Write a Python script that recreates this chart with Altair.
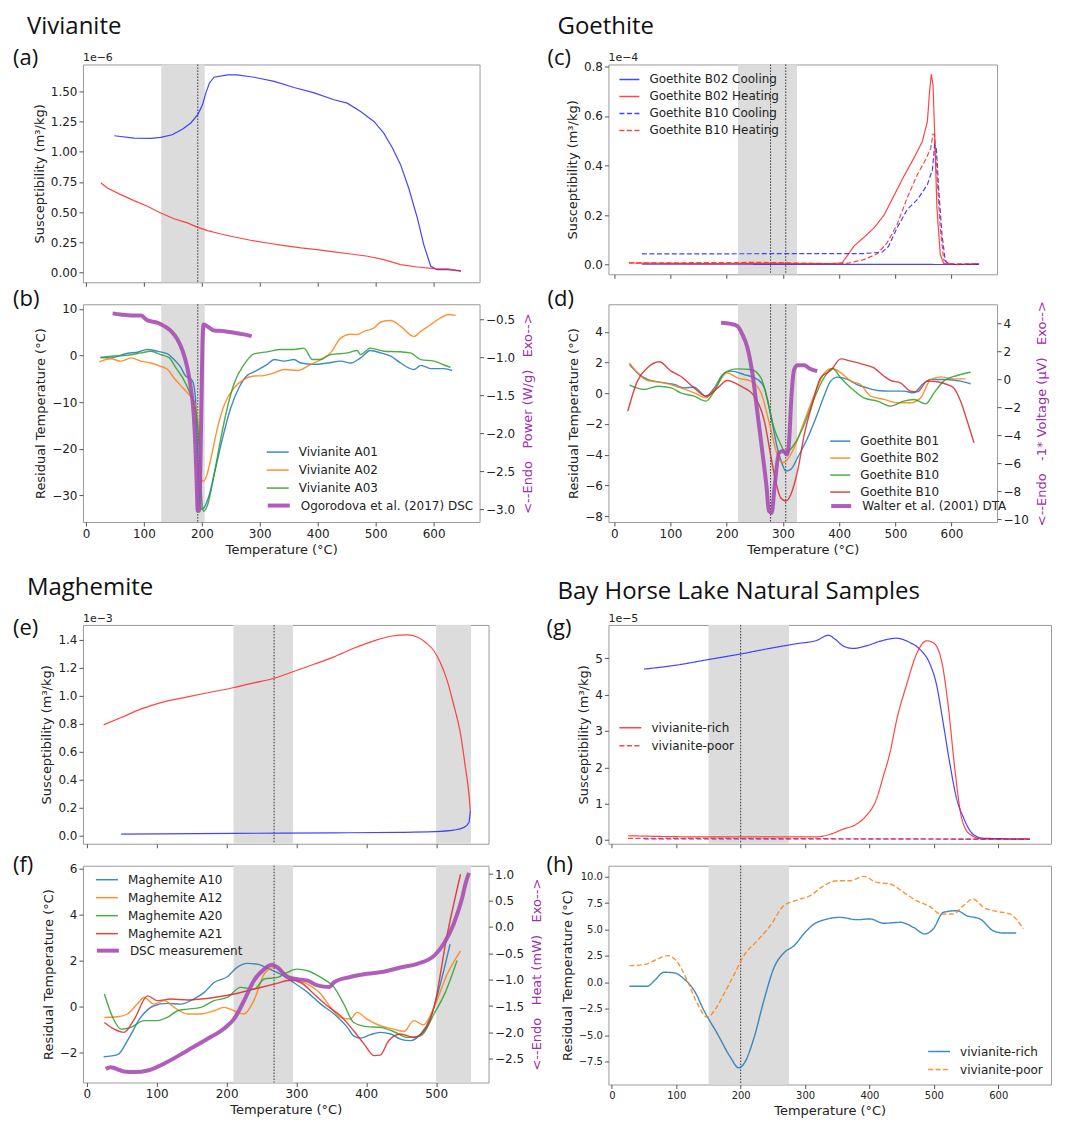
import altair as alt
import pandas as pd

FONT = "DejaVu Sans"
HFONT = "Open Sans"
INK = "#222222"
SPAN_C = "#dcdcdc"
SUS_BLUE = "#2525ff"
SUS_RED = "#ff2525"
C_BLUE, C_OR, C_GR, C_RED = "#1f77b4", "#ff7f0e", "#2ca02c", "#d62728"
DSC_C = "#a64db3"
DSC_T = "#9b30a9"
DASH = [5, 2.5]
SOLID = [1, 0]
NB = "\u00a0\u00a0\u00a0"

X6 = [0, 100, 200, 300, 400, 500, 600]
X5 = [0, 100, 200, 300, 400, 500]

# ---------------- (a) Vivianite susceptibility (x1e-6) ----------------
a_blue = [(49,1.134),(83,1.115),(112,1.112),(129,1.12),(149,1.142),(167,1.19),(181,1.24),(193,1.31),(201,1.39),(207,1.49),(213,1.57),(221,1.62),(244,1.64),(261,1.64),(290,1.62),(325,1.585),(359,1.535),(394,1.49),(428,1.433),(451,1.405),(474,1.336),(497,1.253),(514,1.156),(529,1.032),(543,0.894),(557,0.70),(572,0.45),(583,0.23),(595,0.05),(606,0.022),(624,0.022),(647,0.014)]
a_red = [(26,0.741),(37,0.70),(60,0.645),(83,0.595),(106,0.548),(129,0.492),(152,0.445),(175,0.41),(193,0.373),(210,0.346),(233,0.318),(256,0.293),(284,0.266),(313,0.243),(342,0.221),(371,0.202),(399,0.188),(428,0.169),(457,0.152),(486,0.133),(514,0.105),(543,0.064),(572,0.044),(601,0.030),(624,0.028),(647,0.008)]

# ---------------- (b) Vivianite residual temperature ----------------
b_a01 = [(25,-0.36),(43,-0.5),(72,0.5),(89,0.7),(106,1.3),(124,0.9),(141,0.36),(152,-0.86),(164,-2.6),(172,-4.4),(178,-4.8),(184,-5.5),(189,-9.1),(191,-16.2),(194,-24),(197,-31.9),(200,-33),(204,-32.6),(213,-29.8),(224,-24),(236,-17.6),(250,-11.2),(264,-6.9),(279,-4.2),(290,-3.5),(313,-1.9),(325,-0.86),(342,-1.2),(359,-0.86),(371,-1.6),(394,-1.9),(417,-1.6),(440,-1.2),(457,-1.6),(474,-0.5),(491,1.07),(509,0.57),(526,-0.14),(543,-1.6),(566,-3.0),(578,-2.1),(595,-2.8),(618,-2.8),(632,-3.2)]
b_a02 = [(23,-1.36),(43,-0.7),(60,-1.2),(78,-0.5),(95,-1.2),(112,-1.6),(129,-2.3),(141,-3),(152,-4.8),(167,-6.9),(178,-8.4),(187,-9.8),(193,-14),(197,-21.2),(200,-26.9),(203,-26.9),(207,-26.2),(216,-21.9),(227,-15.5),(239,-10.5),(256,-6.9),(273,-5.1),(290,-4.4),(307,-4.3),(325,-3.7),(342,-3.0),(365,-3.2),(388,-1.9),(405,-0.9),(422,0.57),(440,3.8),(457,4.6),(468,4.5),(480,5.2),(497,5.9),(509,7.2),(526,7.5),(543,6.3),(566,4.1),(578,5.2),(595,6.6),(612,8.1),(626,8.8),(638,8.6)]
b_a03 = [(25,-0.5),(43,-0.14),(72,0.07),(95,0.57),(112,0.93),(129,0.21),(144,-0.5),(155,-2.6),(167,-4.8),(178,-7.6),(187,-10.5),(193,-15.5),(197,-24),(200,-31.2),(203,-33.4),(210,-32),(221,-25.6),(233,-17.6),(244,-11.2),(256,-5.9),(273,-1.9),(290,0.36),(313,0.8),(336,1.3),(359,1.3),(376,1.6),(391,-0.86),(405,-0.86),(422,0.21),(451,0.57),(468,1.07),(474,0.2),(491,1.6),(514,0.93),(543,0.8),(560,0.57),(578,-0.86),(601,-1.2),(624,-2.3),(629,-2.5)]
b_dsc = [(46,-0.42),(60,-0.434),(78,-0.447),(95,-0.447),(106,-0.513),(124,-0.544),(135,-0.588),(147,-0.654),(158,-0.763),(167,-0.917),(175,-1.136),(181,-1.4),(186,-1.75),(189,-2.19),(191,-2.63),(193,-3.02),(195,-3.02),(197,-2.63),(199,-1.75),(201,-0.873),(203,-0.566),(213,-0.61),(221,-0.645),(239,-0.654),(256,-0.675),(273,-0.697),(286,-0.72)]
b_names = ["Vivianite A01", "Vivianite A02", "Vivianite A03"]
b_dsc_name = "Ogorodova et al. (2017) DSC"

# ---------------- (c) Goethite susceptibility (x1e-4) ----------------
c_b02_cool = [(49,0.002),(200,0.0015),(400,0.001),(600,0.0005),(649,0.0005)]
c_b02_heat = [(26,0.0067),(147,0.004),(266,0.005),(385,0.004),(405,0.0067),(414,0.034),(426,0.074),(444,0.11),(462,0.148),(480,0.20),(497,0.276),(515,0.356),(533,0.43),(548,0.497),(557,0.578),(561,0.70),(564,0.769),(567,0.726),(570,0.524),(574,0.229),(580,0.04),(586,0.005),(610,0.0),(649,0.004)]
c_b10_cool = [(49,0.043),(266,0.044),(444,0.044),(477,0.051),(488,0.074),(503,0.148),(521,0.222),(539,0.262),(557,0.323),(566,0.383),(570,0.484),(573,0.47),(577,0.31),(583,0.121),(589,0.013),(598,0.001),(649,0.001)]
c_b10_heat = [(26,0.0067),(266,0.009),(385,0.004),(414,0.005),(444,0.02),(468,0.044),(485,0.087),(503,0.161),(521,0.269),(539,0.363),(554,0.424),(563,0.47),(567,0.527),(570,0.524),(574,0.363),(580,0.148),(586,0.02),(598,0.003),(649,0.003)]
c_names = ["Goethite B02 Cooling", "Goethite B02 Heating", "Goethite B10 Cooling", "Goethite B10 Heating"]

# ---------------- (d) Goethite residual temperature ----------------
d_b01 = [(27,1.87),(41,1.33),(59,0.9),(89,0.68),(107,0.57),(124,0.35),(142,0.4),(163,-0.19),(178,0.35),(193,1.22),(207,1.44),(231,1.22),(255,0.9),(267,0.35),(278,-1.38),(290,-3.55),(299,-4.64),(305,-5.07),(314,-4.96),(326,-4.2),(344,-2.9),(361,-1.38),(373,-0.19),(385,0.79),(397,1.05),(415,0.9),(432,0.57),(450,0.35),(468,0.18),(492,0.14),(515,0.14),(533,0.03),(548,0.57),(563,0.9),(592,0.9),(616,0.79),(634,0.62)]
d_b02 = [(27,1.98),(41,1.33),(59,0.83),(89,0.68),(118,0.35),(142,0.03),(163,-0.3),(178,0.25),(201,1.33),(219,1.0),(243,0.79),(261,0.03),(275,-1.82),(290,-3.99),(299,-4.53),(308,-4.31),(320,-3.55),(338,-1.82),(356,-0.08),(373,1.27),(388,1.61),(403,1.33),(421,0.79),(438,0.57),(456,-0.19),(480,-0.4),(504,-0.62),(527,-0.62),(545,-0.3),(563,0.9),(581,1.07),(604,0.94),(625,0.94)]
d_b10g = [(27,0.53),(53,0.25),(77,0.46),(101,0.35),(118,0.03),(142,-0.19),(163,-0.51),(178,0.14),(196,1.33),(219,1.59),(243,1.55),(261,1.0),(273,-0.51),(284,-2.25),(296,-3.33),(305,-3.88),(320,-3.33),(338,-2.03),(356,-0.3),(373,1.0),(388,1.61),(403,1.0),(421,0.35),(444,-0.3),(468,-0.51),(492,-0.84),(515,-0.51),(533,-0.41),(554,-0.69),(569,0.03),(586,0.79),(610,1.16),(634,1.37)]
d_b10r = [(24,-1.16),(41,0.79),(59,1.66),(80,2.05),(101,1.44),(118,1.11),(142,0.35),(163,-0.19),(184,0.35),(201,0.83),(225,0.46),(249,-0.19),(267,-1.82),(278,-3.99),(287,-5.72),(296,-6.81),(305,-7.02),(314,-6.59),(326,-5.07),(338,-2.68),(352,-0.73),(367,1.0),(385,1.48),(403,2.24),(421,2.09),(444,1.87),(462,1.66),(480,1.11),(492,0.83),(509,0.68),(527,0.14),(539,0.09),(557,0.79),(575,0.75),(592,0.57),(604,0.35),(616,-0.51),(628,-1.82),(640,-3.23)]
d_dta = [(190,4.05),(207,3.98),(219,3.81),(228,3.21),(237,2.26),(246,0.36),(255,-2.5),(264,-5.36),(271,-7.74),(275,-9.4),(280,-9.52),(285,-7.74),(293,-5.24),(301,-5.12),(307,-5.36),(311,-4.4),(315,-1.31),(320,0.71),(326,1.02),(338,1.02),(347,0.79),(361,0.6)]
d_names = ["Goethite B01", "Goethite B02", "Goethite B10", "Goethite B10 "]
d_dta_name = "Walter et al. (2001) DTA"

# ---------------- (e) Maghemite susceptibility (x1e-3) ----------------
e_red = [(24,0.793),(49,0.845),(77,0.905),(106,0.952),(144,0.993),(182,1.031),(211,1.06),(239,1.093),(268,1.126),(296,1.174),(325,1.226),(354,1.279),(382,1.34),(411,1.393),(435,1.426),(459,1.436),(473,1.421),(485,1.381),(497,1.321),(506,1.238),(516,1.107),(525,0.94),(535,0.726),(542,0.488),(547,0.298),(549,0.179)]
e_blue = [(49,0.012),(211,0.017),(354,0.021),(449,0.024),(497,0.029),(525,0.04),(540,0.06),(547,0.095),(549,0.179)]

# ---------------- (f) Maghemite residual temperature ----------------
f_a10 = [(24,-2.19),(44,-2.1),(58,-1.49),(77,-0.48),(96,0.03),(115,0.13),(134,0.1),(153,0.32),(168,0.61),(182,1.04),(201,1.29),(215,1.7),(230,1.87),(244,1.84),(258,1.67),(277,1.41),(296,1.04),(316,0.61),(335,0.1),(354,-0.33),(373,-0.91),(382,-1.28),(392,-1.38),(406,-1.23),(420,-1.13),(435,-1.2),(449,-1.42),(463,-1.49),(478,-1.2),(492,-0.48),(506,0.97),(520,2.71)]
f_a12 = [(25,-0.48),(44,-0.45),(58,-0.33),(72,0.1),(82,0.39),(96,0.1),(111,0.25),(125,-0.04),(144,-0.33),(163,-0.33),(182,-0.19),(196,-0.04),(211,-0.19),(225,-0.33),(239,0.25),(254,1.41),(268,1.7),(282,1.48),(296,1.19),(316,0.97),(335,0.54),(349,-0.04),(363,-0.48),(377,-0.55),(387,-0.26),(401,-0.55),(420,-0.84),(439,-0.99),(454,-1.09),(468,-0.62),(482,-0.8),(497,-0.04),(516,1.41),(535,2.42)]
f_a20 = [(25,0.54),(37,-0.48),(49,-0.99),(63,-0.91),(82,-0.62),(101,-0.62),(115,-0.48),(130,-0.19),(144,-0.12),(163,-0.04),(182,0.25),(201,0.39),(220,0.83),(239,0.75),(254,1.19),(273,1.26),(287,1.48),(301,1.62),(316,1.55),(335,1.26),(354,0.83),(368,0.1),(382,-0.7),(401,-0.88),(420,-0.91),(439,-1.09),(459,-1.35),(478,-1.28),(497,-0.33),(513,0.6),(530,2.0)]
f_a21 = [(25,-0.7),(39,-0.99),(53,-1.13),(68,-0.55),(87,0.46),(101,0.25),(120,0.32),(144,0.28),(163,0.32),(182,0.39),(211,0.54),(239,0.75),(268,0.97),(292,1.14),(306,1.04),(325,0.54),(344,0.03),(363,-0.41),(382,-1.06),(397,-1.64),(411,-2.14),(420,-2.12),(432,-1.49),(449,-1.2),(468,-1.35),(483,-1.06),(497,-0.04),(516,3.14),(535,5.75)]
f_dsc = [(27,-2.69),(34,-2.66),(53,-2.74),(68,-2.75),(87,-2.72),(115,-2.56),(144,-2.34),(173,-2.12),(196,-1.93),(211,-1.74),(225,-1.4),(239,-1.02),(254,-0.8),(265,-0.72),(273,-0.77),(287,-0.95),(301,-0.99),(316,-1.02),(330,-1.11),(347,-1.14),(354,-1.05),(377,-0.95),(401,-0.89),(425,-0.85),(449,-0.77),(473,-0.7),(497,-0.55),(511,-0.32),(525,0.05),(532,0.31),(537,0.53),(542,0.81),(547,1.02)]
f_names = ["Maghemite A10", "Maghemite A12", "Maghemite A20", "Maghemite A21"]
f_dsc_name = "DSC measurement"

# ---------------- (g) Bay Horse Lake susceptibility (x1e-5) ----------------
g_rich_cool = [(50,4.70),(100,4.81),(152,4.97),(204,5.13),(245,5.27),(287,5.40),(318,5.49),(336,5.63),(347,5.52),(359,5.34),(375,5.27),(395,5.34),(421,5.49),(442,5.55),(463,5.43),(478,5.25),(494,4.84),(504,4.29),(514,3.28),(525,2.09),(535,1.17),(546,0.62),(561,0.16),(577,0.05),(649,0.03)]
g_rich_heat = [(25,0.12),(131,0.09),(235,0.09),(318,0.09),(339,0.16),(359,0.30),(380,0.44),(395,0.67),(411,1.13),(421,1.72),(432,2.41),(442,3.28),(458,4.29),(473,5.11),(489,5.48),(499,5.43),(512,4.93),(522,3.74),(533,1.90),(543,0.62),(556,0.16),(577,0.03),(649,0.03)]
g_poor_heat = [(25,0.05),(300,0.04),(500,0.03),(649,0.02)]
g_poor_cool = [(50,0.03),(300,0.03),(500,0.03),(649,0.02)]
gh_names = ["vivianite-rich", "vivianite-poor"]

# ---------------- (h) Bay Horse Lake residual temperature ----------------
h_rich = [(27,-0.38),(55,-0.38),(66,0.16),(81,0.95),(97,0.89),(112,0.32),(128,-0.79),(143,-2.68),(164,-4.89),(184,-7.09),(197,-8.1),(205,-7.72),(221,-5.2),(236,-1.73),(252,1.42),(268,2.84),(283,3.47),(298,4.58),(314,5.52),(329,5.9),(355,6.15),(380,5.93),(401,6.0),(422,5.59),(448,5.68),(468,5.21),(486,4.58),(499,5.05),(515,6.63),(536,6.78),(551,6.31),(572,5.99),(592,4.89),(608,4.67),(628,4.67)]
h_poor = [(27,1.58),(50,1.67),(71,2.21),(86,2.53),(102,1.9),(117,0.16),(133,-2.05),(148,-3.31),(161,-2.52),(174,-1.1),(189,0.63),(205,2.53),(226,3.95),(246,5.36),(267,7.26),(288,7.79),(308,8.2),(329,9.15),(350,9.62),(370,9.62),(391,10.03),(411,9.46),(432,9.31),(453,8.52),(473,7.73),(494,7.16),(510,6.47),(530,6.47),(546,7.26),(561,7.89),(577,7.1),(597,6.72),(618,6.47),(639,5.05)]

# highlighted temperature windows and dotted markers
ab_spans, ab_rules = [(130, 205)], [193]
cd_spans, cd_rules = [(220, 325)], [278, 305]
ef_spans, ef_rules = [(210, 295), (500, 550)], [268]
gh_spans, gh_rules = [(150, 275)], [200]


# ---------------- helpers ----------------
def pts(pairs, **tags):
    d = pd.DataFrame(pairs, columns=["T", "v"])
    for k, val in tags.items():
        d[k] = val
    return d


def xenc(field, dom, ticks, show, size=12):
    return alt.X(f"{field}:Q", scale=alt.Scale(domain=dom, nice=False, zero=False),
                 axis=alt.Axis(values=ticks, format="d", labels=show, labelFontSize=size,
                               title="Temperature (°C)" if show else None))


def yenc(dom, ticks, fmt, title, orient="left", tcolor=INK, size=12, tpad=4):
    kw = dict(values=ticks, format=fmt, title=title, orient=orient,
              titleColor=tcolor, labelFontSize=size, titlePadding=tpad)
    if orient == "right":
        kw["titleAngle"] = 270
        kw["titleBaseline"] = "top"
    return alt.Y("v:Q", scale=alt.Scale(domain=dom, nice=False, zero=False), axis=alt.Axis(**kw))


def background(dom, ticks, show, H, spans, rules, size=12):
    sp = pd.DataFrame(spans, columns=["s", "e"])
    rect = alt.Chart(sp).mark_rect(color=SPAN_C).encode(
        x=xenc("s", dom, ticks, show, size), x2=alt.X2("e"),
        y=alt.value(0), y2=alt.value(H))
    rl = alt.Chart(pd.DataFrame({"r": rules})).mark_rule(
        color="#333333", strokeDash=[1.5, 1.5], strokeWidth=1).encode(
        x=xenc("r", dom, ticks, show, size))
    return [rect, rl]


def txt(s, x, y, size, font=HFONT, color="#111111"):
    return alt.Chart(pd.DataFrame({"t": [s]})).mark_text(
        align="left", baseline="middle", font=font, fontSize=size, color=color).encode(
        text="t:N", x=alt.value(x), y=alt.value(y))


def leg(x, y, pad, sw=1.5, stroke=None, size=484):
    kw = dict(orient="none", legendX=x, legendY=y, title=None, symbolType="stroke",
              symbolSize=size, symbolStrokeWidth=sw, labelFont=FONT, labelFontSize=12,
              labelColor=INK, rowPadding=pad, labelOffset=9, padding=0, labelLimit=400)
    if stroke:
        kw["symbolStrokeColor"] = stroke
    return alt.Legend(**kw)


HALF = 12      # half of a legend entry's height
PITCH = 17.8   # observed distance between legend rows

# ---------------- panel (a) ----------------
AB_DOM = [-5.2, 679.3]
a_df = pd.concat([pts(a_blue, s="cool"), pts(a_red, s="heat")])
a_line = alt.Chart(a_df).mark_line(strokeWidth=1.2, opacity=0.85).encode(
    x=xenc("T", AB_DOM, X6, False),
    y=yenc([-0.083, 1.726], [0, 0.25, 0.5, 0.75, 1.0, 1.25, 1.5], ".2f", "Susceptibility (m³/kg)"),
    color=alt.Color("s:N", scale=alt.Scale(domain=["cool", "heat"], range=[SUS_BLUE, SUS_RED]), legend=None))
panel_a = alt.layer(*background(AB_DOM, X6, False, 218, ab_spans, ab_rules), a_line,
                    txt("1e−6", 0, -6, 11, FONT, INK), txt("Vivianite", -56, -38, 24),
                    txt("(a)", -70, -6, 22)).properties(width=397, height=218)

# ---------------- panel (b) ----------------
b_df = pd.concat([pts(b_a01, series=b_names[0]), pts(b_a02, series=b_names[1]), pts(b_a03, series=b_names[2])])
b_line = alt.Chart(b_df).mark_line(strokeWidth=1.4, opacity=0.85, interpolate="monotone").encode(
    x=xenc("T", AB_DOM, X6, True),
    y=yenc([-35.7, 11.0], [-30, -20, -10, 0, 10], "d", "Residual Temperature (°C)"),
    color=alt.Color("series:N", scale=alt.Scale(domain=b_names, range=[C_BLUE, C_OR, C_GR]),
                    legend=leg(183, 148 - HALF, -6.5)))
b_dsc_l = alt.Chart(pts(b_dsc, src=b_dsc_name)).mark_line(strokeWidth=4, opacity=0.9, interpolate="monotone").encode(
    x=xenc("T", AB_DOM, X6, True),
    y=yenc([-3.167, -0.30], [-3.0, -2.5, -2.0, -1.5, -1.0, -0.5], ".1f",
           "<--Endo" + NB + "Power (W/g)" + NB + "Exo-->", orient="right", tcolor=DSC_T, tpad=7),
    color=alt.Color("src:N", scale=alt.Scale(domain=[b_dsc_name], range=[DSC_C]),
                    legend=leg(183, 148 - HALF + 3 * 17.5, 0, sw=4)))
panel_b = alt.layer(*background(AB_DOM, X6, True, 218, ab_spans, ab_rules), b_line, b_dsc_l,
                    txt("(b)", -70, -5, 22)).resolve_scale(
    y="independent", color="independent").resolve_legend(color="independent").properties(width=397, height=218)

# ---------------- panel (c) ----------------
CD_DOM = [-10.5, 681]
c_df = pd.concat([pts(c_b02_cool, series=c_names[0]), pts(c_b02_heat, series=c_names[1]),
                  pts(c_b10_cool, series=c_names[2]), pts(c_b10_heat, series=c_names[3])])
c_leg = leg(10, 14 - 10, -10, size=400)
c_line = alt.Chart(c_df).mark_line(strokeWidth=1.2, opacity=0.85).encode(
    x=xenc("T", CD_DOM, X6, False),
    y=yenc([-0.039, 0.808], [0, 0.2, 0.4, 0.6, 0.8], ".1f", "Susceptibility (m³/kg)"),
    color=alt.Color("series:N", scale=alt.Scale(domain=c_names, range=[SUS_BLUE, SUS_RED, SUS_BLUE, SUS_RED]), legend=c_leg),
    strokeDash=alt.StrokeDash("series:N", scale=alt.Scale(domain=c_names, range=[SOLID, SOLID, DASH, DASH]), legend=c_leg))
panel_c = alt.layer(*background(CD_DOM, X6, False, 210, cd_spans, cd_rules), c_line,
                    txt("1e−4", 0, -6, 11, FONT, INK), txt("Goethite", -51, -38, 24),
                    txt("(c)", -61, -6, 22)).properties(width=389, height=210)

# ---------------- panel (d) ----------------
d_df = pd.concat([pts(d_b01, series=d_names[0]), pts(d_b02, series=d_names[1]),
                  pts(d_b10g, series=d_names[2]), pts(d_b10r, series=d_names[3])])
D_LEG_Y = 136 - 10
d_line = alt.Chart(d_df).mark_line(strokeWidth=1.4, opacity=0.85, interpolate="monotone").encode(
    x=xenc("T", CD_DOM, X6, True),
    y=yenc([-8.39, 5.80], [-8, -6, -4, -2, 0, 2, 4], "d", "Residual Temperature (°C)"),
    color=alt.Color("series:N", scale=alt.Scale(domain=d_names, range=[C_BLUE, C_OR, C_GR, C_RED]),
                    legend=leg(221, D_LEG_Y, -10, size=400)))
d_dta_l = alt.Chart(pts(d_dta, src=d_dta_name)).mark_line(strokeWidth=4, opacity=0.9, interpolate="monotone").encode(
    x=xenc("T", CD_DOM, X6, True),
    y=yenc([-10.19, 5.38], [-10, -8, -6, -4, -2, 0, 2, 4], "d",
           "<--Endo" + NB + "-1* Voltage (μV)" + NB + "Exo-->", orient="right", tcolor=DSC_T, tpad=7),
    color=alt.Color("src:N", scale=alt.Scale(domain=[d_dta_name], range=[DSC_C]),
                    legend=leg(221, D_LEG_Y + 4 * 16, 0, sw=4, size=400)))
panel_d = alt.layer(*background(CD_DOM, X6, True, 218, cd_spans, cd_rules), d_line, d_dta_l,
                    txt("(d)", -61, -5, 22)).resolve_scale(
    y="independent", color="independent").resolve_legend(color="independent").properties(width=389, height=218)

# ---------------- spacer row with section titles ----------------
spacer_l = txt("Maghemite", -56, 44, 24).properties(
    width=406, height=59, view=alt.ViewBackground(strokeOpacity=0))
spacer_r = txt("Bay Horse Lake Natural Samples", -51, 48, 24).properties(
    width=443, height=59, view=alt.ViewBackground(strokeOpacity=0))

# ---------------- panel (e) ----------------
EF_DOM = [-5.7, 575.1]
e_df = pd.concat([pts(e_red, s="heat"), pts(e_blue, s="cool")])
e_line = alt.Chart(e_df).mark_line(strokeWidth=1.2, opacity=0.85, interpolate="monotone").encode(
    x=xenc("T", EF_DOM, X5, False),
    y=yenc([-0.057, 1.507], [0, 0.2, 0.4, 0.6, 0.8, 1.0, 1.2, 1.4], ".1f", "Susceptibility (m³/kg)"),
    color=alt.Color("s:N", scale=alt.Scale(domain=["cool", "heat"], range=[SUS_BLUE, SUS_RED]), legend=None))
panel_e = alt.layer(*background(EF_DOM, X5, False, 219, ef_spans, ef_rules), e_line,
                    txt("1e−3", 0, -6, 11, FONT, INK),
                    txt("(e)", -70, 3, 22)).properties(width=406, height=219)

# ---------------- panel (f) ----------------
f_df = pd.concat([pts(f_a10, series=f_names[0]), pts(f_a12, series=f_names[1]),
                  pts(f_a20, series=f_names[2]), pts(f_a21, series=f_names[3])])
f_line = alt.Chart(f_df).mark_line(strokeWidth=1.4, opacity=0.85, interpolate="monotone").encode(
    x=xenc("T", EF_DOM, X5, True),
    y=yenc([-3.31, 6.12], [-2, 0, 2, 4, 6], "d", "Residual Temperature (°C)"),
    color=alt.Color("series:N", scale=alt.Scale(domain=f_names, range=[C_BLUE, C_OR, C_GR, C_RED]),
                    legend=leg(12, 14 - HALF, -6.5)))
f_dsc_l = alt.Chart(pts(f_dsc, src=f_dsc_name)).mark_line(strokeWidth=4, opacity=0.9, interpolate="monotone").encode(
    x=xenc("T", EF_DOM, X5, True),
    y=yenc([-2.948, 1.157], [-2.5, -2.0, -1.5, -1.0, -0.5, 0.0, 0.5, 1.0], ".1f",
           "<--Endo" + NB + "Heat (mW)" + NB + "Exo-->", orient="right", tcolor=DSC_T, tpad=7),
    color=alt.Color("src:N", scale=alt.Scale(domain=[f_dsc_name], range=[DSC_C]),
                    legend=leg(12, 14 - HALF + 4 * 17.5, 0, sw=4)))
panel_f = alt.layer(*background(EF_DOM, X5, True, 217, ef_spans, ef_rules), f_line, f_dsc_l,
                    txt("(f)", -70, -1, 22)).resolve_scale(
    y="independent", color="independent").resolve_legend(color="independent").properties(width=406, height=217)

# ---------------- panel (g) ----------------
GH_DOM = [-5.4, 682]
g_df = pd.concat([pts(g_rich_cool, sample=gh_names[0], ph="cool"), pts(g_rich_heat, sample=gh_names[0], ph="heat"),
                  pts(g_poor_cool, sample=gh_names[1], ph="cool"), pts(g_poor_heat, sample=gh_names[1], ph="heat")])
g_line = alt.Chart(g_df).mark_line(strokeWidth=1.2, opacity=0.85, interpolate="monotone").encode(
    x=xenc("T", GH_DOM, X6, False),
    y=yenc([-0.10, 5.915], [0, 1, 2, 3, 4, 5], "d", "Susceptibility (m³/kg)"),
    color=alt.Color("ph:N", scale=alt.Scale(domain=["cool", "heat"], range=[SUS_BLUE, SUS_RED]), legend=None),
    strokeDash=alt.StrokeDash("sample:N", scale=alt.Scale(domain=gh_names, range=[SOLID, DASH]),
                              legend=leg(10, 103 - HALF, -6, stroke=SUS_RED)))
panel_g = alt.layer(*background(GH_DOM, X6, False, 219, gh_spans, gh_rules), g_line,
                    txt("1e−5", 0, -6, 11, FONT, INK),
                    txt("(g)", -62, 3, 22)).properties(width=443, height=219)

# ---------------- panel (h) ----------------
h_df = pd.concat([pts(h_rich, sample=gh_names[0]), pts(h_poor, sample=gh_names[1])])
h_leg = leg(319, 186 - HALF, -7)
h_line = alt.Chart(h_df).mark_line(strokeWidth=1.4, opacity=0.85, interpolate="monotone").encode(
    x=xenc("T", GH_DOM, X6, True, size=10),
    y=yenc([-9.68, 11.04], [-7.5, -5.0, -2.5, 0.0, 2.5, 5.0, 7.5, 10.0], ".1f",
           "Residual Temperature (°C)", size=10),
    color=alt.Color("sample:N", scale=alt.Scale(domain=gh_names, range=[C_BLUE, C_OR]), legend=h_leg),
    strokeDash=alt.StrokeDash("sample:N", scale=alt.Scale(domain=gh_names, range=[SOLID, DASH]), legend=h_leg))
panel_h = alt.layer(*background(GH_DOM, X6, True, 219, gh_spans, gh_rules, size=10), h_line,
                    txt("(h)", -62, -1, 22)).properties(width=443, height=219)

# ---------------- assemble ----------------
chart = alt.concat(panel_a, panel_c, panel_b, panel_d, spacer_l, spacer_r, panel_e, panel_g, panel_f, panel_h,
                   columns=2, spacing={"row": 22, "column": 120}, bounds="flush", align="each")
chart = chart.resolve_scale(color="independent", strokeDash="independent").resolve_legend(
    color="independent", strokeDash="independent")
chart = chart.properties(padding={"left": 4, "top": 5, "right": 5, "bottom": 5})
chart = chart.configure_view(stroke="#9a9a9a", strokeWidth=1).configure_axis(
    domain=False, grid=False, tickColor="#555555", tickSize=4, tickWidth=1,
    labelFont=FONT, labelColor=INK, labelFontSize=12, labelPadding=2, labelFlush=False,
    titleFont=FONT, titleFontSize=13, titleFontWeight="normal", titleColor=INK, titlePadding=4)

chart.save("out.html", embed_options={"renderer": "svg", "actions": False})
